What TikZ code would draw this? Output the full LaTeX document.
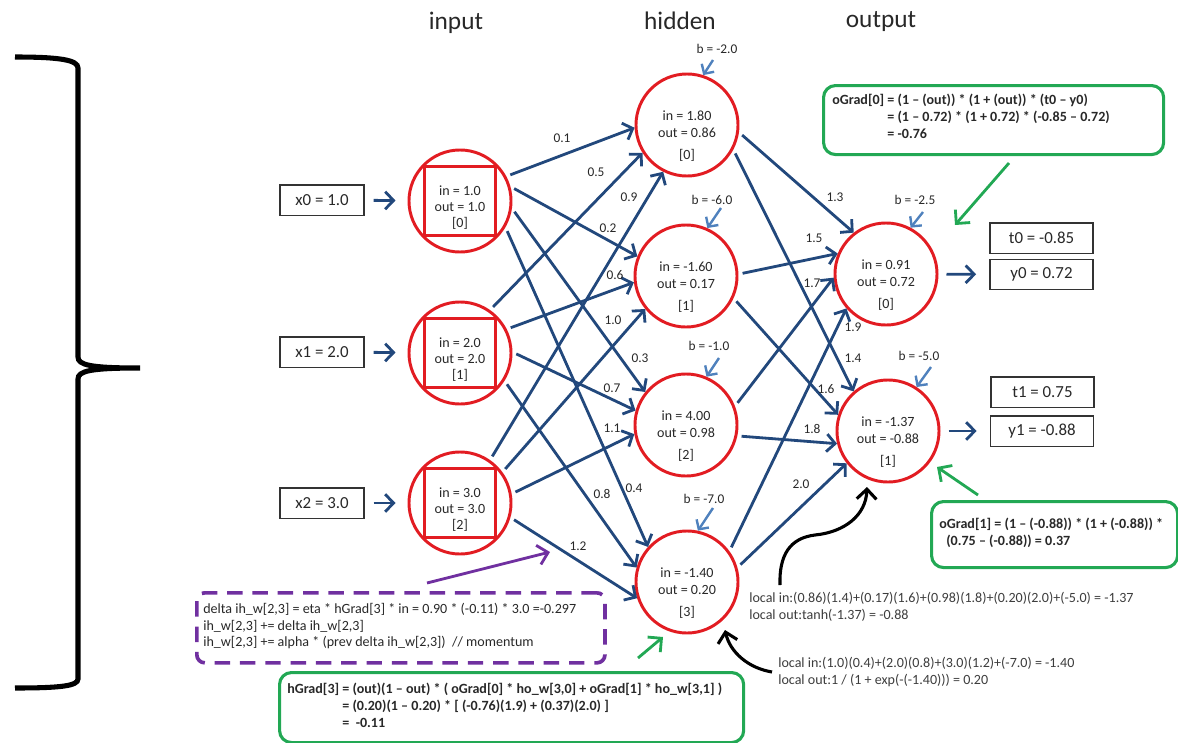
\documentclass[tikz,border=0pt]{standalone}
\usepackage{fontspec}
\setmainfont{Carlito}
\usetikzlibrary{arrows.meta}
\definecolor{wireblue}{RGB}{34,72,124}
\definecolor{nodered}{RGB}{226,28,34}
\definecolor{biasblue}{RGB}{79,129,189}
\definecolor{boxgreen}{RGB}{34,168,84}
\definecolor{boxpurple}{RGB}{112,48,160}
\definecolor{txt}{RGB}{40,40,40}
\begin{document}
\begin{tikzpicture}[x=0.025cm,y=-0.025cm,
  neuron/.style={circle, draw=nodered, line width=2.1pt, minimum size=2.55cm, inner sep=0pt},
  insq/.style={draw=nodered, line width=2.1pt, minimum width=1.775cm, minimum height=1.725cm, inner sep=0pt},
  wire/.style={draw=wireblue, line width=2pt, -{Straight Barb[length=6pt,width=12.5pt]}, shorten <=3pt},
  ntext/.style={font=\fontsize{10}{12}\selectfont, text=txt, align=center, inner sep=0pt},
  intext/.style={font=\fontsize{10}{11.3}\selectfont, text=txt, align=center, inner sep=0pt},
  wlabel/.style={font=\fontsize{9.5}{11}\selectfont, text=txt, inner sep=0pt},
  valbox/.style={draw=black!80, line width=1pt, minimum height=0.76cm, font=\fontsize{12}{14}\selectfont, text=txt, inner sep=0pt},
  biasarrow/.style={draw=biasblue, line width=1.7pt, -{Straight Barb[length=5pt,width=10.5pt]}},
  title/.style={font=\fontsize{18}{20}\selectfont, text=txt, inner sep=0pt},
  gbox/.style={draw=boxgreen, line width=2.2pt, rounded corners=0.3cm, inner sep=0pt},
  gtext/.style={font=\fontsize{10}{12.3}\selectfont\bfseries, text=txt, inner sep=0pt},
  garrow/.style={draw=boxgreen, line width=2pt, -{Straight Barb[length=7pt,width=14pt]}},
  pbox/.style={draw=boxpurple, line width=2.6pt, dash pattern=on 11pt off 7pt, rounded corners=0.2cm, inner sep=0pt},
  ptext/.style={font=\fontsize{10}{12}\selectfont, text=txt, align=left, inner sep=0pt},
  parrow/.style={draw=boxpurple, line width=2pt, -{Straight Barb[length=7pt,width=14pt]}},
  ltext/.style={font=\fontsize{10}{12.2}\selectfont, text=txt!90, align=left, inner sep=0pt},
  karrow/.style={draw=black, line width=2.2pt, -{Straight Barb[length=7pt,width=14pt]}},
  brace/.style={draw=black, line width=3.6pt}
]
\useasboundingbox (0,0) rectangle (1178,743);

% layer titles
\node[title] (tin) at (456,23) {input};
\node[title] (thid) at (680,21) {hidden};
\node[title] (tout) at (881,22) {output};

% left brace
\draw[brace] (15,57) .. controls (60,57) and (78,60) .. (78,68) -- (78,357)
  .. controls (78,365) and (90,368) .. (140,368)
  .. controls (90,368) and (78,371) .. (78,379) -- (78,679)
  .. controls (78,686) and (60,688) .. (15,688);

% input neurons
\node[neuron] (i0) at (460,201) {};
\node[neuron] (i1) at (460,353) {};
\node[neuron] (i2) at (460,503) {};
\node[insq] (i0sq) at (460,201) {};
\node[insq] (i1sq) at (460,353) {};
\node[insq] (i2sq) at (460,503) {};
\node[intext] (i0t) at (460,208) {in = 1.0\\out = 1.0\\{[0]}};
\node[intext] (i1t) at (460,360) {in = 2.0\\out = 2.0\\{[1]}};
\node[intext] (i2t) at (460,510) {in = 3.0\\out = 3.0\\{[2]}};

% hidden neurons
\node[neuron] (h0) at (687,125) {};
\node[neuron] (h1) at (686,276) {};
\node[neuron] (h2) at (686,425) {};
\node[neuron] (h3) at (687,582) {};
\node[ntext] (h0t) at (687,136) {in = 1.80\\out = 0.86\\[3.6pt]{[0]}};
\node[ntext] (h1t) at (686,287) {in = -1.60\\out = 0.17\\[3.6pt]{[1]}};
\node[ntext] (h2t) at (686,436) {in = 4.00\\out = 0.98\\[3.6pt]{[2]}};
\node[ntext] (h3t) at (687,593) {in = -1.40\\out = 0.20\\[3.6pt]{[3]}};

% output neurons
\node[neuron] (o0) at (886,274) {};
\node[neuron] (o1) at (888,431) {};
\node[ntext] (o0t) at (886,285) {in = 0.91\\out = 0.72\\[3.6pt]{[0]}};
\node[ntext] (o1t) at (888,442) {in = -1.37\\out = -0.88\\[3.6pt]{[1]}};

% input values
\node[valbox, minimum width=2.1cm] (x0) at (322,200) {x0 = 1.0};
\node[valbox, minimum width=2.1cm] (x1) at (322,352) {x1 = 2.0};
\node[valbox, minimum width=2.1cm] (x2) at (322,503) {x2 = 3.0};
\draw[wire, shorten <=0.225cm, shorten >=0.3cm] (x0) -- (i0);
\draw[wire, shorten <=0.225cm, shorten >=0.3cm] (x1) -- (i1);
\draw[wire, shorten <=0.225cm, shorten >=0.3cm] (x2) -- (i2);

% targets and outputs
\node[valbox, minimum width=2.575cm] (t0) at (1041.5,238) {t0 = -0.85};
\node[valbox, minimum width=2.575cm] (y0) at (1041.5,274.5) {y0 = 0.72};
\node[valbox, minimum width=2.575cm] (t1) at (1042.5,392) {t1 = 0.75};
\node[valbox, minimum width=2.575cm] (y1) at (1042,431) {y1 = -0.88};
\draw[wire, shorten <=0.2cm, shorten >=0.33cm] (o0) -- (y0);
\draw[wire, shorten <=0.2cm, shorten >=0.33cm] (o1) -- (y1);

% input-to-hidden weights
\draw[wire] (i0.28)  -- (h0.183);
\draw[wire] (i0.16)  -- (h1.158);
\draw[wire] (i0.-8)  -- (h2.141);
\draw[wire] (i0.-30) -- (h3.138);
\draw[wire] (i1.55)  -- (h0.212);
\draw[wire] (i1.27)  -- (h1.187);
\draw[wire] (i1.1)   -- (h2.164);
\draw[wire] (i1.-32) -- (h3.164);
\draw[wire] (i2.55)  -- (h0.243);
\draw[wire] (i2.36)  -- (h1.219);
\draw[wire] (i2.10)  -- (h2.190);
\draw[wire] (i2.-16) -- (h3.198);

% hidden-to-output weights
\draw[wire] (h0.-8)  -- (o0.128);
\draw[wire] (h0.-28) -- (o1.131);
\draw[wire] (h1.2)   -- (o0.157);
\draw[wire] (h1.-25) -- (o1.162);
\draw[wire] (h2.21)  -- (o0.184);
\draw[wire] (h2.-12) -- (o1.194);
\draw[wire] (h3.36)  -- (o0.221);
\draw[wire] (h3.16)  -- (o1.218);

% weight labels
\node[wlabel] (w00) at (562,138) {0.1};
\node[wlabel] (w10) at (596,172) {0.5};
\node[wlabel] (w20) at (629,197) {0.9};
\node[wlabel] (w01) at (608,228) {0.2};
\node[wlabel] (w11) at (615,275) {0.6};
\node[wlabel] (w21) at (613,320) {1.0};
\node[wlabel] (w02) at (640,358) {0.3};
\node[wlabel] (w12) at (612,388) {0.7};
\node[wlabel] (w22) at (612,428) {1.1};
\node[wlabel] (w13) at (602,494) {0.8};
\node[wlabel] (w03) at (634,488) {0.4};
\node[wlabel] (w23) at (578,546) {1.2};
\node[wlabel] (v00) at (835,197) {1.3};
\node[wlabel] (v10) at (814,238) {1.5};
\node[wlabel] (v20) at (812,283) {1.7};
\node[wlabel] (v30) at (853,327) {1.9};
\node[wlabel] (v01) at (853,358) {1.4};
\node[wlabel] (v11) at (826,389) {1.6};
\node[wlabel] (v21) at (812,429) {1.8};
\node[wlabel] (v31) at (801,484) {2.0};

% biases
\node[wlabel] (bh0) at (717,49) {b = -2.0};
\node[wlabel] (bh1) at (712,200) {b = -6.0};
\node[wlabel] (bh2) at (709,346) {b = -1.0};
\node[wlabel] (bh3) at (704,499) {b = -7.0};
\node[wlabel] (bo0) at (915,200) {b = -2.5};
\node[wlabel] (bo1) at (919,356) {b = -5.0};
\coordinate (bh0s) at (713,60);
\coordinate (bh1s) at (721,208);
\coordinate (bh2s) at (719,358);
\coordinate (bh3s) at (713,508);
\coordinate (bo0s) at (923,212);
\coordinate (bo1s) at (931,367);
\draw[biasarrow] (bh0s) -- (h0.72);
\draw[biasarrow] (bh1s) -- (h1.66);
\draw[biasarrow] (bh2s) -- (h2.67);
\draw[biasarrow] (bh3s) -- (h3.78);
\draw[biasarrow] (bo0s) -- (o0.62);
\draw[biasarrow] (bo1s) -- (o1.57);

% output gradient 0
\node[gbox, minimum width=8.5cm, minimum height=1.725cm, anchor=north west] (og0) at (822,84) {};
\node[gtext, anchor=west] (og0t) at (832,118)
  {\begin{tabular}{@{}l@{ }l@{}}oGrad[0] & = (1 – (out)) * (1 + (out)) * (t0 – y0)\\
   & = (1 – 0.72) * (1 + 0.72) * (-0.85 – 0.72)\\
   & = -0.76\end{tabular}};
\coordinate (g0a) at (1009,163);
\coordinate (g0b) at (955,225);
\draw[garrow] (g0a) -- (g0b);

% output gradient 1
\node[gbox, minimum width=6.15cm, minimum height=1.65cm, anchor=north west] (og1) at (930,500) {};
\node[gtext, align=left, anchor=west] (og1t) at (939,532.5)
  {oGrad[1] = (1 – (-0.88)) * (1 + (-0.88)) *\\\hspace*{5pt}(0.75 – (-0.88)) = 0.37};
\coordinate (g1a) at (978,495);
\coordinate (g1b) at (937,467);
\draw[garrow] (g1a) -- (g1b);

% hidden gradient 3
\node[gbox, minimum width=11.6cm, minimum height=1.75cm, anchor=north west] (hg) at (278,671) {};
\node[gtext, anchor=west] (hgt) at (287,707)
  {\begin{tabular}{@{}l@{ }l@{}}hGrad[3] & = (out)(1 – out) * ( oGrad[0] * ho\_w[3,0] + oGrad[1] * ho\_w[3,1] )\\
   & = (0.20)(1 – 0.20) * [ (-0.76)(1.9) + (0.37)(2.0) ]\\
   & =~ -0.11\end{tabular}};
\coordinate (hga) at (638,658);
\coordinate (hgb) at (663,637);
\draw[garrow] (hga) -- (hgb);

% weight update
\node[pbox, minimum width=10.2cm, minimum height=1.75cm, anchor=north west] (upd) at (195,591) {};
\node[ptext, anchor=west] (updt) at (203,626)
  {delta ih\_w[2,3] = eta * hGrad[3] * in = 0.90 * (-0.11) * 3.0 =-0.297\\
   ih\_w[2,3] += delta ih\_w[2,3]\\
   ih\_w[2,3] += alpha * (prev delta ih\_w[2,3])~~// momentum};
\coordinate (upa) at (427,583);
\coordinate (upb) at (550,552);
\draw[parrow] (upa) -- (upb);

% local computations
\node[ltext, anchor=west] (loc1) at (749,606.5)
  {local in:(0.86)(1.4)+(0.17)(1.6)+(0.98)(1.8)+(0.20)(2.0)+(-5.0) = -1.37\\
   local out:tanh(-1.37) = -0.88};
\node[ltext, anchor=west] (loc2) at (778,672)
  {local in:(1.0)(0.4)+(2.0)(0.8)+(3.0)(1.2)+(-7.0) = -1.40\\
   local out:1 / (1 + exp(-(-1.40))) = 0.20};
\coordinate (k1a) at (780,585);
\coordinate (k1m) at (815,535);
\coordinate (k1b) at (867,487);
\draw[karrow] (k1a) .. controls (779,555) and (790,538) .. (k1m)
  .. controls (845,532) and (866,515) .. (k1b);
\coordinate (k2a) at (772,672);
\coordinate (k2b) at (725,630);
\draw[karrow] (k2a) .. controls (748,668) and (730,652) .. (k2b);

\end{tikzpicture}
\end{document}
